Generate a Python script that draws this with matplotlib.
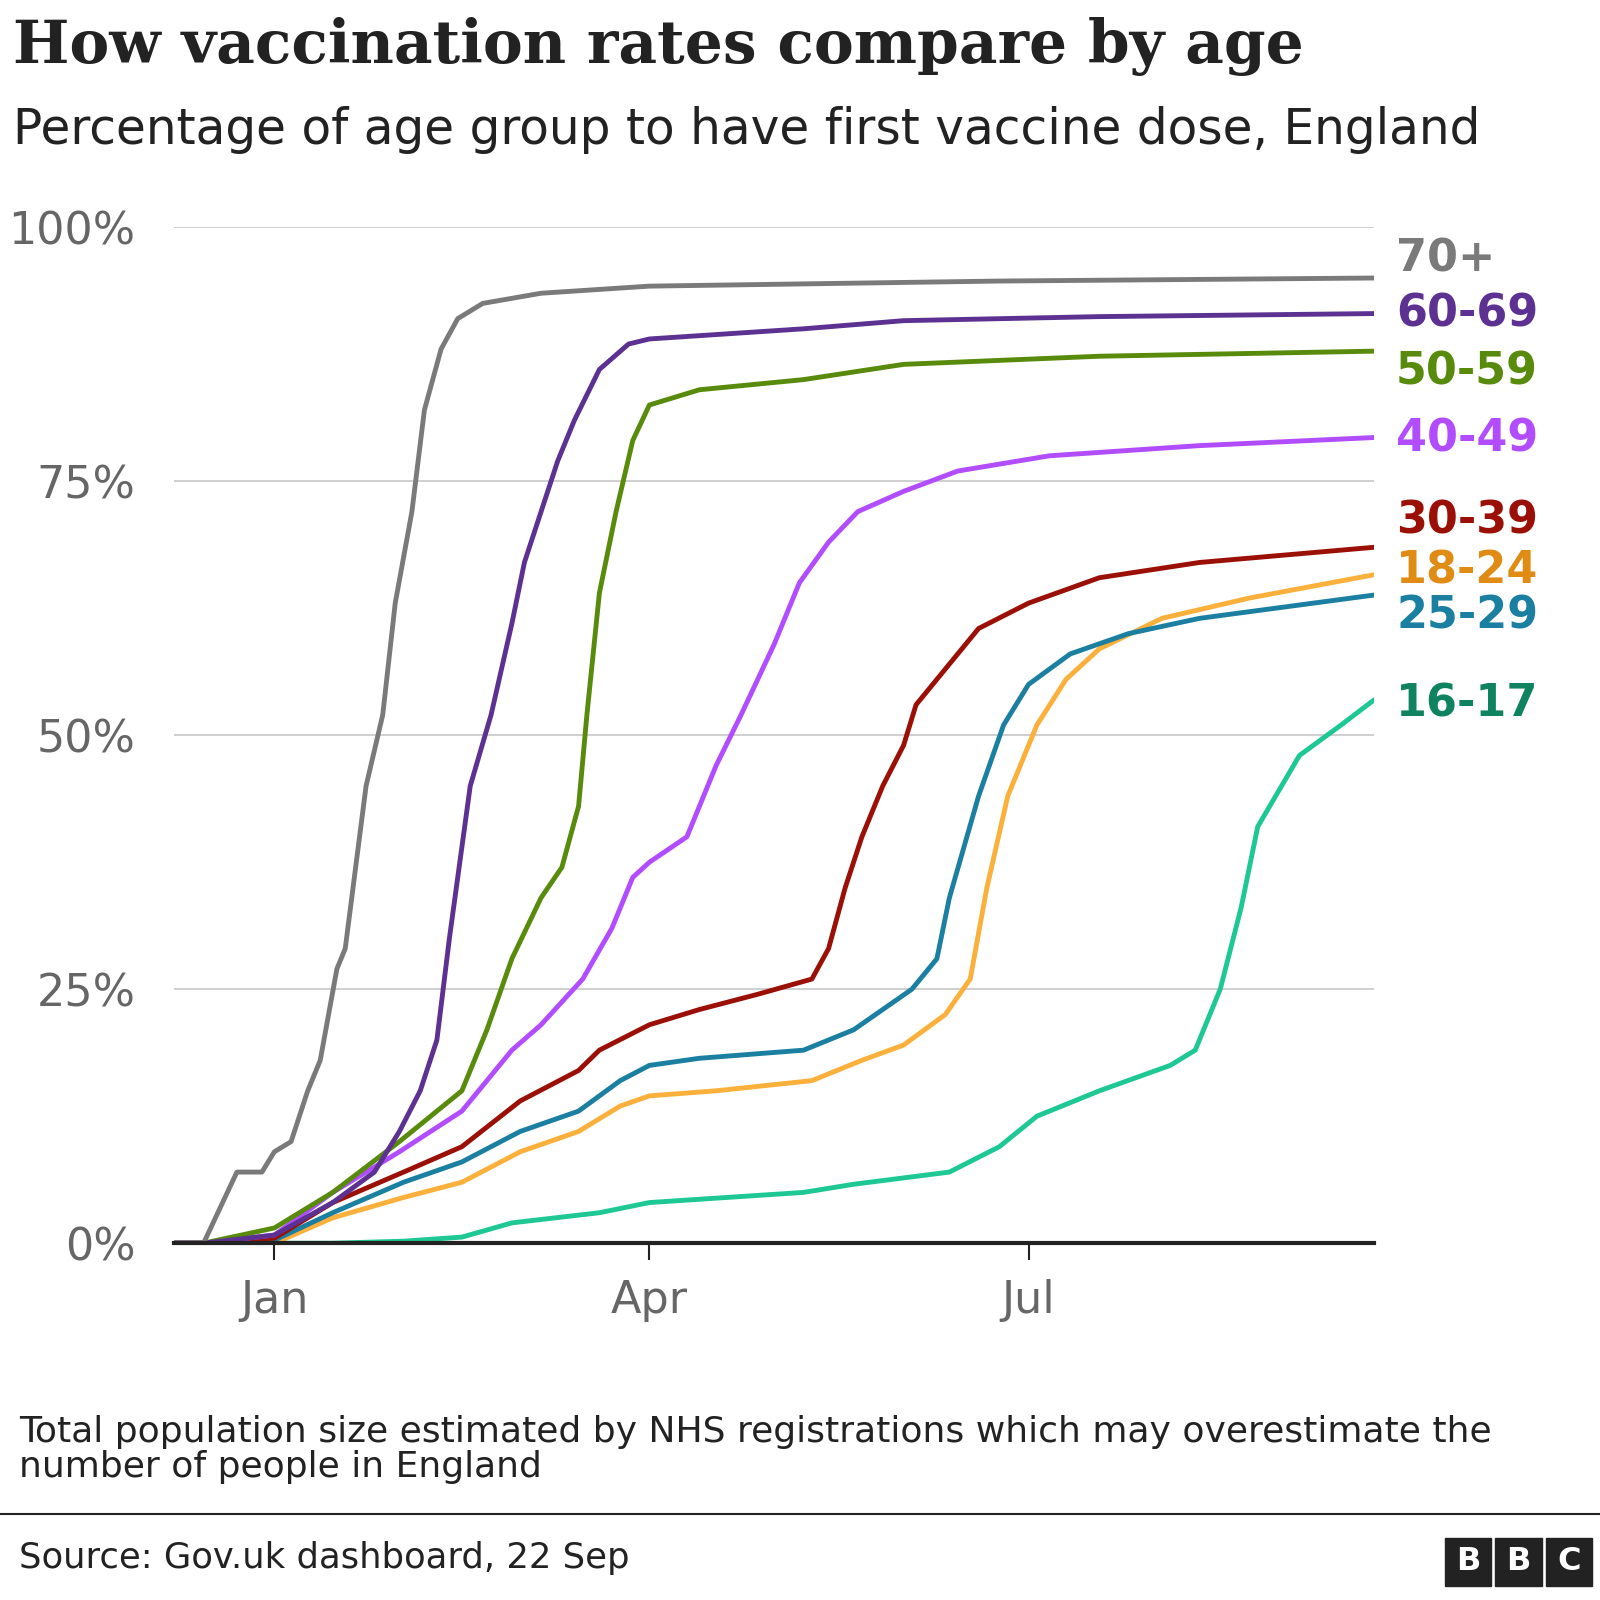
import matplotlib
matplotlib.use("Agg")
import matplotlib.pyplot as plt
import pandas as pd

groups = ["70+", "60-69", "50-59", "40-49", "30-39", "18-24", "25-29", "16-17"]
line_colors = ["#7a7a7a", "#5c3191", "#588a0c", "#b24cff", "#9b1006", "#fbb03b", "#1a7fa0", "#1dc894"]
label_colors = ["#7a7a7a", "#5c3191", "#588a0c", "#b24cff", "#9b1006", "#e08b14", "#1a7fa0", "#0f8260"]
label_y = [96.9, 91.5, 85.7, 79.2, 71.1, 66.2, 61.7, 53.1]

dates_70 = ["2020-12-08","2020-12-15","2020-12-23","2020-12-29","2021-01-01","2021-01-05","2021-01-09","2021-01-12","2021-01-16","2021-01-18","2021-01-23","2021-01-27","2021-01-30","2021-02-03","2021-02-06","2021-02-10","2021-02-14","2021-02-20","2021-03-06","2021-04-01","2021-06-24","2021-09-22"]
vals_70 = [0,0,7,7,9,10,15,18,27,29,45,52,63,72,82,88,91,92.5,93.5,94.2,94.7,95]
dates_60 = ["2020-12-08","2020-12-15","2021-01-01","2021-01-15","2021-01-25","2021-01-31","2021-02-05","2021-02-09","2021-02-12","2021-02-17","2021-02-22","2021-02-27","2021-03-02","2021-03-06","2021-03-10","2021-03-14","2021-03-20","2021-03-27","2021-04-01","2021-05-08","2021-06-01","2021-07-18","2021-09-22"]
vals_60 = [0,0,0.8,4,7,11,15,20,30,45,52,61,67,72,77,81,86,88.5,89,90,90.8,91.2,91.5]
dates_50 = ["2020-12-08","2020-12-15","2021-01-01","2021-01-15","2021-01-31","2021-02-15","2021-02-21","2021-02-27","2021-03-06","2021-03-11","2021-03-15","2021-03-17","2021-03-20","2021-03-24","2021-03-28","2021-04-01","2021-04-13","2021-05-08","2021-06-01","2021-07-18","2021-09-22"]
vals_50 = [0,0,1.5,5,10,15,21,28,34,37,43,52,64,72,79,82.5,84,85,86.5,87.3,87.8]
dates_40 = ["2020-12-08","2020-12-15","2021-01-01","2021-01-15","2021-01-31","2021-02-15","2021-02-27","2021-03-06","2021-03-16","2021-03-23","2021-03-28","2021-04-01","2021-04-10","2021-04-17","2021-04-23","2021-05-01","2021-05-07","2021-05-14","2021-05-21","2021-06-01","2021-06-14","2021-07-06","2021-08-11","2021-09-22"]
vals_40 = [0,0,0.8,5,9,13,19,21.5,26,31,36,37.5,40,47,52,59,65,69,72,74,76,77.5,78.5,79.3]
dates_30 = ["2020-12-08","2020-12-15","2021-01-01","2021-01-15","2021-02-01","2021-02-15","2021-03-01","2021-03-15","2021-03-20","2021-04-01","2021-04-13","2021-04-27","2021-05-10","2021-05-14","2021-05-18","2021-05-22","2021-05-27","2021-06-01","2021-06-04","2021-06-12","2021-06-19","2021-07-01","2021-07-18","2021-08-11","2021-09-22"]
vals_30 = [0,0,0.5,4,7,9.5,14,17,19,21.5,23,24.5,26,29,35,40,45,49,53,57,60.5,63,65.5,67,68.5]
dates_25 = ["2020-12-08","2020-12-15","2021-01-01","2021-01-15","2021-02-01","2021-02-15","2021-03-01","2021-03-15","2021-03-25","2021-04-01","2021-04-13","2021-05-08","2021-05-20","2021-05-27","2021-06-03","2021-06-09","2021-06-12","2021-06-19","2021-06-25","2021-07-01","2021-07-11","2021-07-25","2021-08-11","2021-09-22"]
vals_25 = [0,0,0.3,3,6,8,11,13,16,17.5,18.2,19,21,23,25,28,34,44,51,55,58,60,61.5,63.8]
dates_18 = ["2020-12-08","2020-12-15","2021-01-01","2021-01-15","2021-02-01","2021-02-15","2021-03-01","2021-03-15","2021-03-25","2021-04-01","2021-04-17","2021-05-10","2021-05-22","2021-06-01","2021-06-11","2021-06-17","2021-06-21","2021-06-26","2021-07-03","2021-07-10","2021-07-18","2021-08-02","2021-08-23","2021-09-22"]
vals_18 = [0,0,0,2.5,4.5,6,9,11,13.5,14.5,15,16,18,19.5,22.5,26,35,44,51,55.5,58.5,61.5,63.5,65.8]
dates_16 = ["2020-12-08","2021-01-15","2021-02-01","2021-02-15","2021-02-27","2021-03-20","2021-04-01","2021-05-08","2021-05-20","2021-06-12","2021-06-24","2021-07-03","2021-07-18","2021-08-04","2021-08-10","2021-08-16","2021-08-21","2021-08-25","2021-09-04","2021-09-14","2021-09-22"]
vals_16 = [0,0,0.2,0.6,2,3,4,5,5.8,7,9.5,12.5,15,17.5,19,25,33,41,48,51,53.5]

series = [(dates_70, vals_70), (dates_60, vals_60), (dates_50, vals_50), (dates_40, vals_40),
          (dates_30, vals_30), (dates_18, vals_18), (dates_25, vals_25), (dates_16, vals_16)]
yticks = [0, 25, 50, 75, 100]
ytick_labels = ["0%", "25%", "50%", "75%", "100%"]
xticks = ["2021-01-01", "2021-04-01", "2021-07-01"]
xtick_labels = ["Jan", "Apr", "Jul"]

fig = plt.figure(figsize=(16, 16), dpi=100)
ax = fig.add_axes([0.109, 0.223, 0.75, 0.635])
order = [7, 5, 6, 4, 3, 2, 1, 0]
for i in order:
    d, v = series[i]
    ax.plot(pd.to_datetime(d), v, color=line_colors[i], lw=3.5, solid_capstyle="round",
            solid_joinstyle="round", zorder=3)
for i, g in enumerate(groups):
    ax.text(1.018, label_y[i] / 100, g, transform=ax.transAxes, color=label_colors[i],
            fontsize=32, fontweight="bold", va="center", ha="left")

ax.set_xlim(pd.Timestamp("2020-12-08"), pd.Timestamp("2021-09-22"))
ax.set_ylim(0, 100)
ax.set_yticks(yticks)
ax.set_yticklabels(ytick_labels)
ax.set_xticks(pd.to_datetime(xticks))
ax.set_xticklabels(xtick_labels)
ax.grid(axis="y", color="#cccccc", lw=1.3)
ax.set_axisbelow(True)
for s in ["top", "right", "left"]:
    ax.spines[s].set_visible(False)
ax.spines["bottom"].set_color("#222222")
ax.spines["bottom"].set_linewidth(3)
ax.spines["bottom"].set_zorder(4)
ax.tick_params(axis="y", length=0, labelsize=32, labelcolor="#666666", pad=28)
ax.tick_params(axis="x", length=12, width=1.5, color="#222222", labelsize=32, labelcolor="#666666", pad=14)

fig.text(0.008, 0.971, "How vaccination rates compare by age", fontsize=43, fontweight="bold",
         family="DejaVu Serif", color="#222222", va="center")
fig.text(0.008, 0.919, "Percentage of age group to have first vaccine dose, England", fontsize=35,
         color="#222222", va="center")
fig.text(0.012, 0.094, "Total population size estimated by NHS registrations which may overestimate the\nnumber of people in England",
         fontsize=26, color="#222222", va="center", linespacing=1.05)
fig.add_artist(plt.Line2D([0, 1], [0.054, 0.054], color="#222222", lw=1.5, transform=fig.transFigure))
fig.text(0.012, 0.026, "Source: Gov.uk dashboard, 22 Sep", fontsize=25.5, color="#222222", va="center")
for k, ch in enumerate("BBC"):
    x0 = 0.903 + k * 0.0315
    fig.add_artist(plt.Rectangle((x0, 0.009), 0.029, 0.03, color="#222222", transform=fig.transFigure))
    fig.text(x0 + 0.0145, 0.024, ch, color="white", fontsize=23, fontweight="bold", ha="center", va="center")

fig.savefig("out.png", dpi=100)
